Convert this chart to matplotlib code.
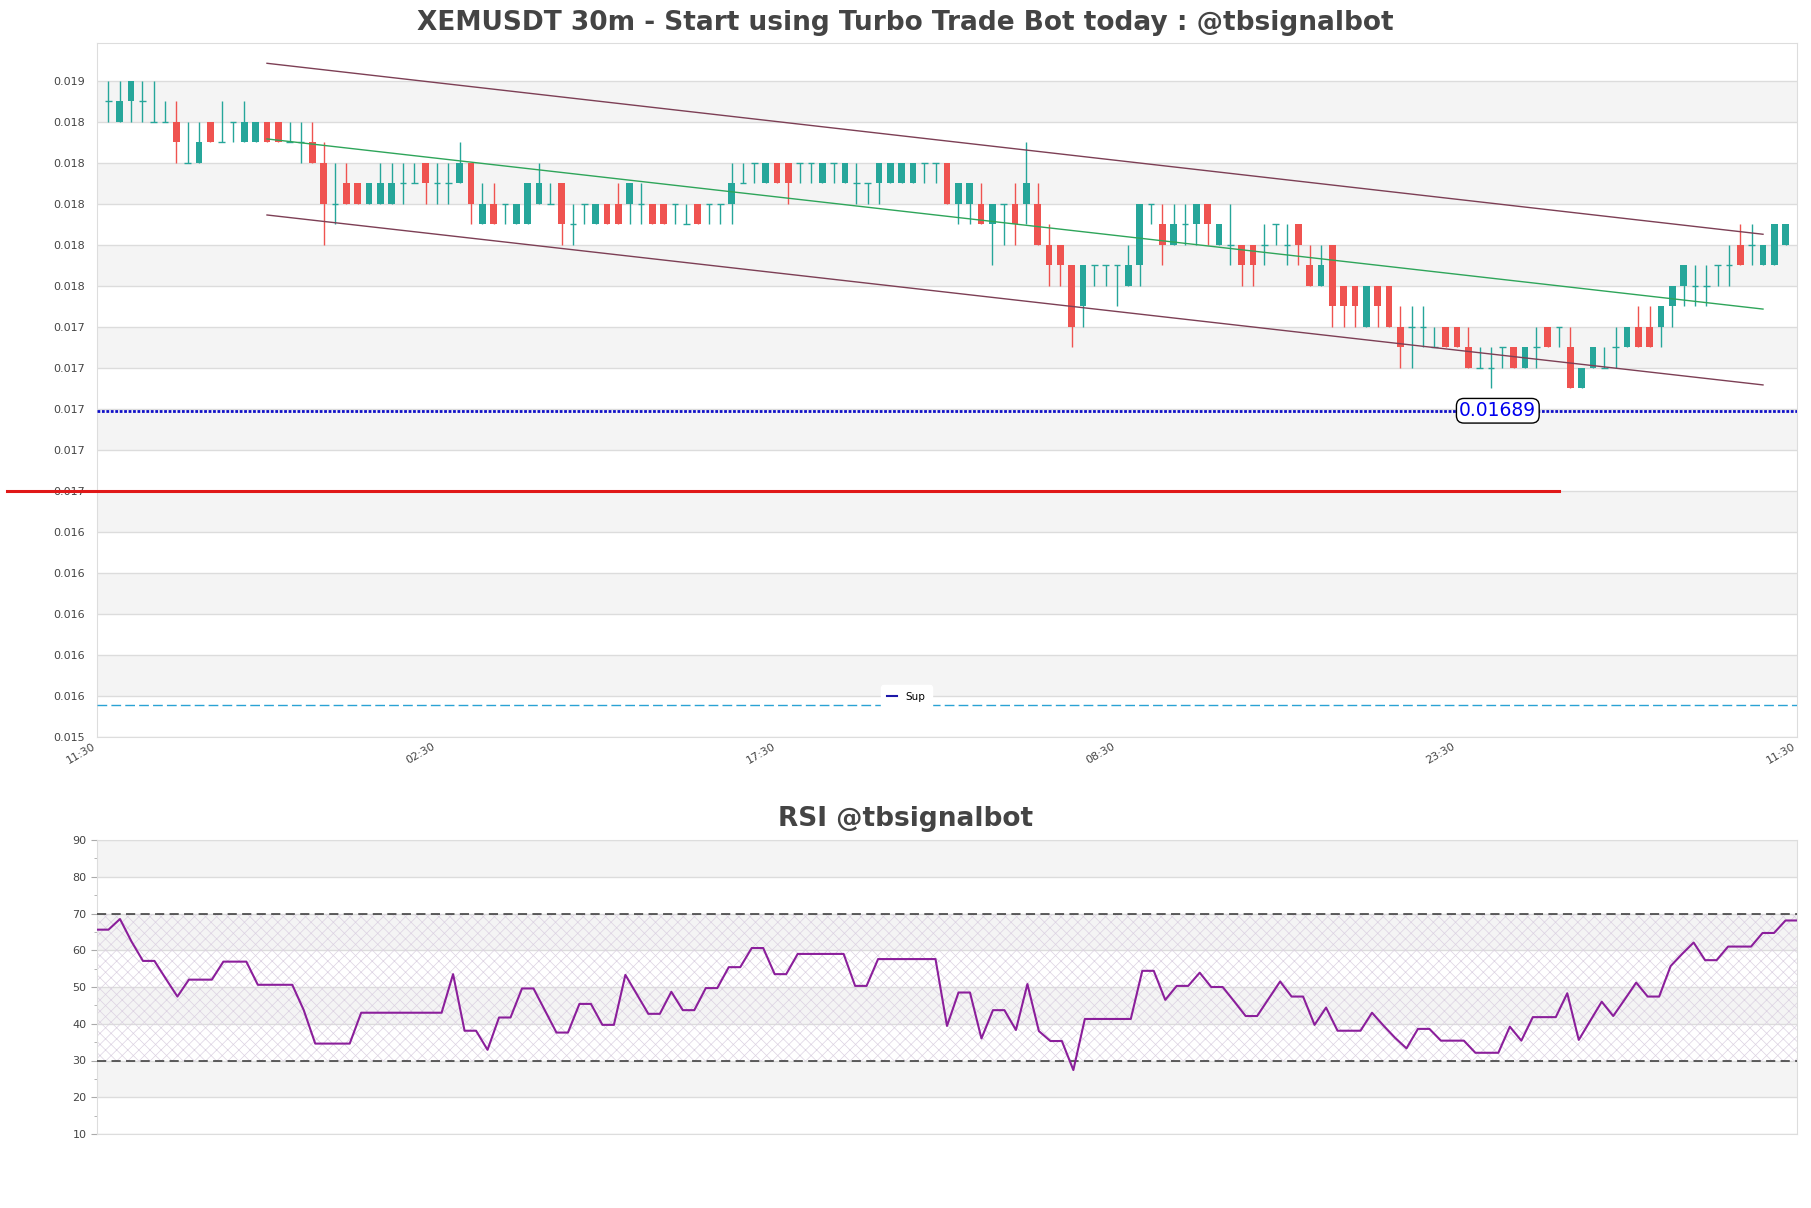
import numpy as np
import matplotlib
matplotlib.use("Agg")
import matplotlib.pyplot as plt
from matplotlib.lines import Line2D

# candles, price in units of 0.0001
o = [184,183,184,184,183,183,183,181,181,183, 182,183,182,182,183,183,182,182,182,181,
     179,180,180,179,179,179,180,180,181,180, 180,180,181,178,179,179,178,178,179,179,
     180,178,179,178,179,179,179,179,179,179, 179,178,179,179,179,179,180,181,180,181,
     181,181,181,180,181,180,180,180,180,180, 180,180,181,181,181,179,179,179,178,179,
     179,179,179,177,177,176,174,176,176,176, 175,176,179,178,177,178,178,179,177,177,
     177,177,177,178,177,178,176,175,177,175, 175,173,175,175,173,173,173,172,173,173,
     172,171,171,172,172,171,172,173,173,172, 170,171,171,172,172,173,173,173,174,175,
     175,175,176,176,177,177,176,176,177]
h = [185,185,185,185,185,184,184,183,183,183, 184,183,184,183,183,183,183,183,183,182,
     181,181,180,180,181,181,181,181,181,181, 181,182,181,180,180,179,179,180,181,180,
     180,179,179,179,179,180,180,180,179,179, 179,179,179,179,179,181,181,181,181,181,
     181,181,181,181,181,181,181,180,181,181, 181,181,181,181,181,180,180,180,179,179,
     180,182,180,178,177,176,176,176,176,176, 177,179,179,179,179,179,179,179,178,179,
     177,177,178,178,178,178,177,177,177,175, 175,175,175,175,174,174,174,173,173,173,
     173,172,172,172,172,172,173,173,173,173, 171,172,172,173,173,174,174,174,175,176,
     176,176,176,177,178,178,177,178,178]
l = [183,183,183,183,183,183,181,181,181,182, 182,182,182,182,182,182,182,181,181,177,
     178,179,179,179,179,179,179,180,179,179, 179,180,178,178,178,178,178,178,179,179,
     177,177,178,178,178,178,178,178,178,178, 178,178,178,178,178,178,180,180,180,180,
     179,180,180,180,180,180,179,179,179,180, 180,180,180,180,179,178,178,178,176,177,
     177,178,177,175,175,172,173,175,175,174, 175,175,178,176,177,177,177,177,177,176,
     175,175,176,177,176,176,175,175,173,173, 173,173,173,173,171,171,172,172,172,172,
     171,171,170,171,171,171,171,172,172,170, 170,171,171,171,172,172,172,172,173,174,
     174,174,175,175,176,176,176,176,177]
c = [184,184,185,184,183,183,182,181,182,182, 182,183,183,183,182,182,182,182,181,179,
     179,179,179,180,180,180,180,180,180,180, 180,181,179,179,178,179,179,180,180,179,
     178,178,179,179,178,178,180,179,178,178, 179,178,178,179,179,180,180,181,181,180,
     180,181,181,181,181,181,180,180,181,181, 181,181,181,181,179,180,180,178,179,179,
     178,180,177,176,176,173,176,176,176,176, 176,179,179,177,178,178,179,178,178,177,
     176,176,177,178,177,177,175,176,174,174, 174,175,174,173,172,173,173,172,172,172,
     171,171,171,172,171,172,172,172,173,170, 171,172,171,172,173,172,172,174,175,176,
     175,175,176,176,176,177,177,178,178]

rsi = [65.6,65.6,68.5,62.4,57.1,57.1,52.2,47.4,52.0,52.0, 52.0,56.9,56.9,56.9,50.6,50.6,50.6,50.6,43.7,34.6,
       34.6,34.6,34.6,43.0,43.0,43.0,43.0,43.0,43.0,43.0, 43.0,53.5,38.1,38.1,32.9,41.7,41.7,49.6,49.6,43.6,
       37.6,37.6,45.4,45.4,39.7,39.7,53.3,48.0,42.7,42.7, 48.7,43.7,43.7,49.7,49.7,55.4,55.4,60.6,60.6,53.5,
       53.5,59.0,59.0,59.0,59.0,59.0,50.3,50.3,57.6,57.6, 57.6,57.6,57.6,57.6,39.4,48.5,48.5,36.0,43.7,43.7,
       38.3,50.8,38.0,35.3,35.3,27.4,41.3,41.3,41.3,41.3, 41.3,54.4,54.4,46.5,50.3,50.3,53.9,50.0,50.0,46.1,
       42.1,42.1,46.8,51.5,47.4,47.4,39.7,44.4,38.1,38.1, 38.1,43.0,39.5,36.2,33.3,38.6,38.6,35.4,35.4,35.4,
       32.1,32.1,32.1,39.2,35.4,41.8,41.8,41.8,48.3,35.6, 40.8,46.0,42.1,46.6,51.2,47.4,47.4,55.7,59.0,62.1,
       57.3,57.3,61.0,61.0,61.0,64.7,64.7,68.1,68.1]

xlabels = ["11:30", "02:30", "17:30", "08:30", "23:30", "11:30"]
yticks = [0.0153 + 0.0002 * k for k in range(17)]
ylabels = ["0.015"] + ["0.016"] * 5 + ["0.017"] * 5 + ["0.018"] * 5 + ["0.019"]

# channel lines: (x0, x1, y0, y1)
upper = (14, 146, 0.018585, 0.017751)
middle = (14, 146, 0.018216, 0.017386)
lower = (14, 146, 0.017845, 0.017016)
support = 0.01689
red_level = 0.0165
red_span = (-8.9, 128)
sup_level = 0.015455

o = np.array(o) / 10000
h = np.array(h) / 10000
l = np.array(l) / 10000
c = np.array(c) / 10000
x = np.arange(len(o))

txt = "#444444"
band = "#f4f4f4"
grid = "#dcdcdc"
up_col = "#26a69a"
dn_col = "#ef5350"

fig = plt.figure(figsize=(18.11, 12.08), dpi=100)
ax = fig.add_axes([97/1811, 1 - 737/1208, 1700/1811, 694/1208])
ax2 = fig.add_axes([97/1811, 1 - 1134/1208, 1700/1811, 294/1208])

# --- price panel
ax.set_xlim(-1, 149)
ax.set_ylim(0.0152985, 0.018684)
for k in range(1, 16, 2):
    ax.axhspan(yticks[k], yticks[k + 1], color=band, lw=0, zorder=0)
ax.set_yticks(yticks)
ax.set_yticklabels(ylabels)
ax.yaxis.grid(True, color=grid, lw=1, zorder=0.5)
ax.set_axisbelow(True)
ax.set_xticks(np.linspace(-1, 149, 6))
ax.set_xticklabels(xlabels, rotation=30, ha="right")
ax.tick_params(axis="y", length=0, labelsize=8, colors=txt, pad=9)
ax.tick_params(axis="x", length=0, labelsize=8, colors=txt, pad=3)
for s in ax.spines.values():
    s.set_color("#dddddd")

cols = np.where(c >= o, up_col, dn_col)
ax.vlines(x, l, h, colors=cols, lw=1, zorder=2)
body = np.abs(c - o)
solid = body > 1e-9
ax.bar(x[solid], body[solid], bottom=np.minimum(o, c)[solid], width=0.6,
       color=cols[solid], lw=0, zorder=3)
ax.hlines(c[~solid], x[~solid] - 0.3, x[~solid] + 0.3, colors=cols[~solid], lw=1, zorder=3)

ax.plot(upper[:2], upper[2:], color="#7d3f55", lw=1, zorder=4)
ax.plot(lower[:2], lower[2:], color="#7d3f55", lw=1, zorder=4)
ax.plot(middle[:2], middle[2:], color="#2ea55a", lw=1, zorder=4)

ax.axhline(support, color="#1010c8", lw=2, ls=(0, (1, 0.6)), zorder=4)
ax.text(122.6, support, "0.01689", color="#0000ee", fontsize=13.5, ha="center", va="center",
        zorder=6, bbox=dict(boxstyle="round,pad=0.15,rounding_size=0.4", fc="white", ec="black", lw=1))
ax.plot(red_span, [red_level, red_level], color="#e01818", lw=2.2, clip_on=False, zorder=5)
ax.axhline(sup_level, color="#2aa3d4", lw=1, dashes=(7, 3), zorder=4)

ax.legend([Line2D([], [], color="#1c17a8", lw=1.5)], ["Sup"], loc="center",
          bbox_to_anchor=(0.476, 0.058), fontsize=7.5, frameon=True, framealpha=1,
          edgecolor="white", handlelength=1.0, borderpad=0.6)

fig.text(0.5, 1 - 23/1208, "XEMUSDT 30m - Start using Turbo Trade Bot today : @tbsignalbot",
         ha="center", va="center", fontsize=19, fontweight="bold", color=txt)

# --- RSI panel
plt.rcParams["hatch.linewidth"] = 0.5
xr = np.arange(len(rsi))
ax2.set_xlim(0, len(rsi) - 1)
ax2.set_ylim(10, 90)
for lo in (20, 40, 60, 80):
    ax2.axhspan(lo, lo + 10, color=band, lw=0, zorder=0)
ax2.fill_between([0, len(rsi) - 1], 30, 70, facecolor="none", edgecolor="#dcd2e2",
                 hatch="xxx", lw=0, zorder=0.6)
ax2.set_yticks(range(10, 91, 10))
ax2.set_yticks(range(15, 90, 10), minor=True)
ax2.yaxis.grid(True, color=grid, lw=1, zorder=0.5)
ax2.set_axisbelow(True)
ax2.set_xticks([])
ax2.tick_params(axis="y", which="both", length=4, color="#aaaaaa", labelsize=8, labelcolor=txt)
ax2.tick_params(axis="y", which="minor", length=2)
for s in ax2.spines.values():
    s.set_color("#dddddd")
ax2.axhline(70, color="#333333", lw=1.1, dashes=(6, 3.5), zorder=3)
ax2.axhline(30, color="#333333", lw=1.1, dashes=(6, 3.5), zorder=3)
ax2.plot(xr, rsi, color="#8b1f9b", lw=1.5, zorder=4)
fig.text(0.5, 1 - 819/1208, "RSI @tbsignalbot", ha="center", va="center",
         fontsize=19, fontweight="bold", color=txt)

fig.savefig("out.png", dpi=100)
